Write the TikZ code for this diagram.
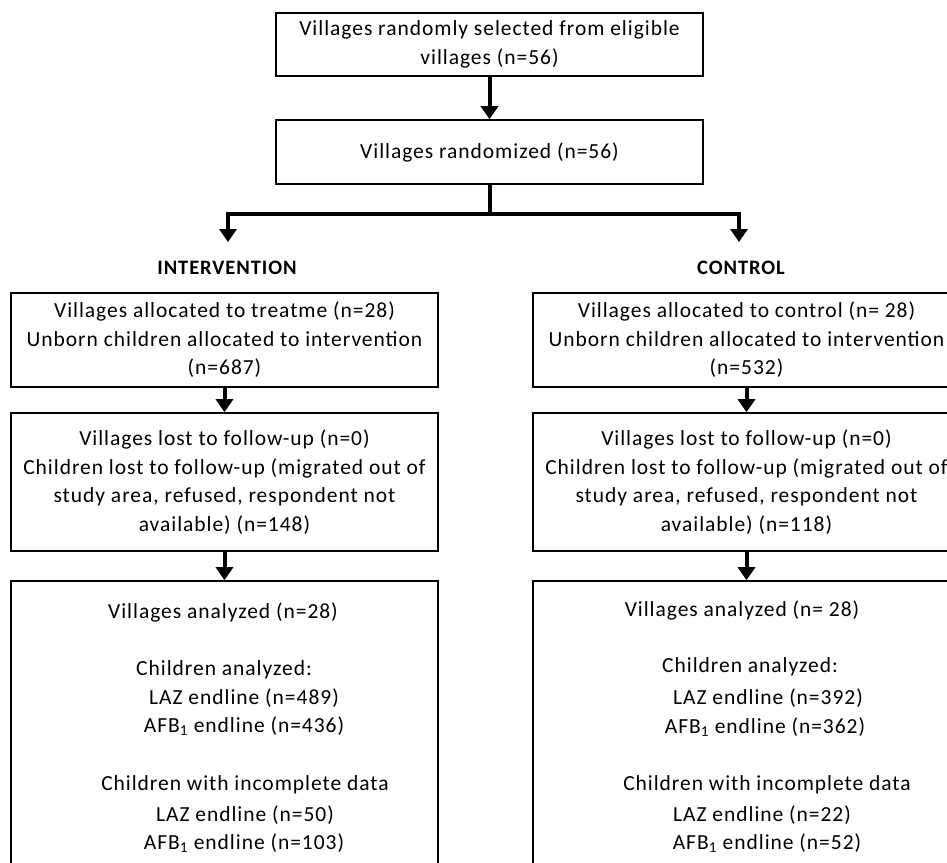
\documentclass[tikz,border=0pt]{standalone}
\usepackage{fontspec}
\setmainfont{Carlito}[LetterSpace=4.5]
\usetikzlibrary{arrows.meta}
\tikzset{
  box/.style={draw=black, line width=1.6pt, fill=white, minimum width=427pt, align=center, inner sep=0pt,
    font=\fontsize{21.5}{28.5}\selectfont},
  txt/.style={inner sep=0pt, font=\fontsize{21.5}{28.5}\selectfont},
  lbl/.style={inner sep=0pt, font=\fontsize{20.5}{22}\selectfont\bfseries},
  line/.style={line width=4pt},
  arr/.style={line width=4pt, line join=miter, -{Triangle[width=17pt,length=13pt]}}
}
\begin{document}
\begin{tikzpicture}[x=1pt, y=-1pt]
\useasboundingbox (0,0) rectangle (947,862);
\clip (0,0) rectangle (947,862);
\fill[white] (0,0) rectangle (947,862);
% top
\node[box, minimum height=63pt] (sel) at (489.5,44.5) {Villages randomly selected from eligible\\villages (n=56)};
\node[box, minimum height=64pt] (rand) at (489.5,152) {Villages randomized (n=56)};
\draw[arr] (sel.south) -- (rand.north);
% split
\draw[line] (rand.south) -- (489.5,214) coordinate (j);
\coordinate (al) at (228,242);
\coordinate (ar) at (739,242);
\draw[arr] (j) -| (al);
\draw[arr] (j) -| (ar);
\node[lbl] (int) at (227,268) {INTERVENTION};
\node[lbl] (ctl) at (741,268) {CONTROL};
% left column
\node[box, minimum height=94pt] (l1) at (224.5,340) {Villages allocated to treatme (n=28)\\Unborn children allocated to intervention\\(n=687)};
\node[box, minimum height=138pt] (l2) at (224.5,482) {Villages lost to follow-up (n=0)\\Children lost to follow-up (migrated out of\\study area, refused, respondent not\\available) (n=148)};
\node[box, minimum height=330pt] (l3) at (224.5,746) {};
\draw[arr] (l1.south) -- (l2.north);
\draw[arr] (l2.south) -- (l3.north);
\node[txt] (l3a) at (223,612) {Villages analyzed (n=28)};
\node[txt] (l3b) at (224,670) {Children analyzed:};
\node[txt] (l3c) at (244,698) {LAZ endline (n=489)};
\node[txt] (l3d) at (244,726) {AFB\textsubscript{1} endline (n=436)};
\node[txt] (l3e) at (245,785) {Children with incomplete data};
\node[txt] (l3f) at (245,815) {LAZ endline (n=50)};
\node[txt] (l3g) at (244,843) {AFB\textsubscript{1} endline (n=103)};
% right column
\node[box, minimum height=94pt] (r1) at (746.5,340) {Villages allocated to control (n= 28)\\Unborn children allocated to intervention\\(n=532)};
\node[box, minimum height=138pt] (r2) at (746.5,482) {Villages lost to follow-up (n=0)\\Children lost to follow-up (migrated out of\\study area, refused, respondent not\\available) (n=118)};
\node[box, minimum height=330pt] (r3) at (746.5,746) {};
\draw[arr] (r1.south) -- (r2.north);
\draw[arr] (r2.south) -- (r3.north);
\node[txt] (r3a) at (742,610) {Villages analyzed (n= 28)};
\node[txt] (r3b) at (750,667) {Children analyzed:};
\node[txt] (r3c) at (768,698) {LAZ endline (n=392)};
\node[txt] (r3d) at (765,727) {AFB\textsubscript{1} endline (n=362)};
\node[txt] (r3e) at (767,785) {Children with incomplete data};
\node[txt] (r3f) at (762,815) {LAZ endline (n=22)};
\node[txt] (r3g) at (767,843) {AFB\textsubscript{1} endline (n=52)};
\end{tikzpicture}
\end{document}
